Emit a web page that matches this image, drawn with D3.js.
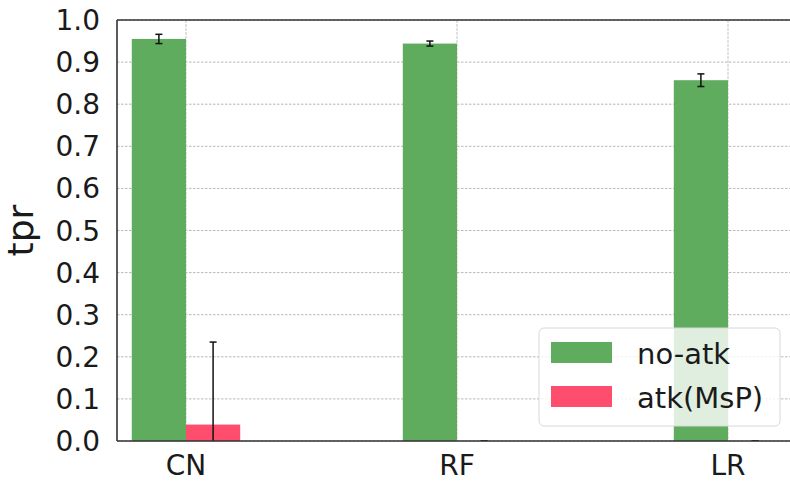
<!DOCTYPE html>
<html>
<head>
<meta charset="utf-8">
<script src="https://cdn.jsdelivr.net/npm/d3@7/dist/d3.min.js"></script>
<style>
  html, body { margin: 0; padding: 0; background: #fff; }
  svg { display: block; font-family: "DejaVu Sans", sans-serif; }
</style>
</head>
<body>
<svg id="chart" width="790" height="482"></svg>
<script>
const categories = ["CN", "RF", "LR"];
const seriesNames = ["no-atk", "atk(MsP)"];
const noAtk = [0.955, 0.944, 0.857];
const noAtkErr = [0.011, 0.006, 0.015];
const atk = [0.039, 0.0, 0.0];
const atkErr = [0.196, 0.0, 0.0];
const yTicks = [0.0, 0.1, 0.2, 0.3, 0.4, 0.5, 0.6, 0.7, 0.8, 0.9, 1.0];

(function () {
const colors = ["#5fac5f", "#ff4d6d"];
const svg = d3.select("#chart");
const W = 790, H = 482;
const pLeft = 117, pTop = 20, pBottom = 441, pRight = 797;

const x = d3.scaleLinear().domain([-0.2546, 2.2546]).range([pLeft, pRight]);
const y = d3.scaleLinear().domain([0, 1]).range([pBottom, pTop]);
const barW = 0.2;

svg.append("defs").append("clipPath").attr("id", "clip")
  .append("rect").attr("x", pLeft).attr("y", pTop).attr("width", pRight - pLeft).attr("height", pBottom - pTop);

// grid
const grid = svg.append("g");
grid.selectAll("line.h").data(yTicks).join("line")
  .attr("x1", pLeft).attr("x2", W).attr("y1", d => y(d)).attr("y2", d => y(d))
  .attr("stroke", "#b8b8b8").attr("stroke-width", 1).attr("stroke-dasharray", "2.5,1.5");
grid.selectAll("line.v").data(categories).join("line")
  .attr("x1", (d, i) => x(i)).attr("x2", (d, i) => x(i)).attr("y1", pTop).attr("y2", pBottom)
  .attr("stroke", "#c4c4c4").attr("stroke-width", 1).attr("stroke-dasharray", "3,1");

const plot = svg.append("g").attr("clip-path", "url(#clip)");
const series = [
  { vals: noAtk, errs: noAtkErr, off: -barW },
  { vals: atk, errs: atkErr, off: 0 }
];
series.forEach((s, si) => {
  plot.selectAll(null).data(s.vals).join("rect")
    .attr("x", (d, i) => x(i + s.off)).attr("width", x(barW) - x(0))
    .attr("y", d => y(d)).attr("height", d => y(0) - y(d))
    .attr("fill", colors[si]);
});
series.forEach((s, si) => {
  const g = plot.append("g");
  s.vals.forEach((v, i) => {
    const cx = x(i + s.off + barW / 2);
    const e = s.errs[i];
    g.append("line").attr("x1", cx).attr("x2", cx).attr("y1", y(v - e)).attr("y2", y(v + e))
      .attr("stroke", "#111").attr("stroke-width", 1.5);
    [v - e, v + e].forEach(t => {
      g.append("line").attr("x1", cx - 3.5).attr("x2", cx + 3.5).attr("y1", y(t)).attr("y2", y(t))
        .attr("stroke", "#111").attr("stroke-width", 1.5);
    });
  });
});

// spines
svg.append("line").attr("x1", pLeft).attr("x2", W).attr("y1", pTop).attr("y2", pTop).attr("stroke", "#333").attr("stroke-width", 1.6);
svg.append("line").attr("x1", pLeft).attr("x2", W).attr("y1", pBottom).attr("y2", pBottom).attr("stroke", "#333").attr("stroke-width", 1.6);
svg.append("line").attr("x1", pLeft).attr("x2", pLeft).attr("y1", pTop).attr("y2", pBottom).attr("stroke", "#333").attr("stroke-width", 1.6);

// y tick labels
svg.selectAll("text.yt").data(yTicks).join("text")
  .attr("x", 100).attr("y", d => y(d)).attr("dy", "0.36em")
  .attr("text-anchor", "end").attr("font-size", 28).attr("fill", "#1a1a1a")
  .text(d => d.toFixed(1));
// x tick labels
svg.selectAll("text.xt").data(categories).join("text")
  .attr("x", (d, i) => x(i)).attr("y", 475)
  .attr("text-anchor", "middle").attr("font-size", 28).attr("fill", "#1a1a1a")
  .text(d => d);
// y label
svg.append("text").attr("transform", `translate(33,${(pTop + pBottom) / 2}) rotate(-90)`)
  .attr("text-anchor", "middle").attr("font-size", 36).attr("fill", "#1a1a1a").text("tpr");

// legend
const lg = svg.append("g");
lg.append("rect").attr("x", 539).attr("y", 328).attr("width", 241).attr("height", 98).attr("rx", 5)
  .attr("fill", "rgba(255,255,255,0.8)").attr("stroke", "#d8d8d8").attr("stroke-width", 1);
seriesNames.forEach((n, i) => {
  lg.append("rect").attr("x", 551).attr("y", 342 + i * 44).attr("width", 61).attr("height", 21).attr("fill", colors[i]);
  lg.append("text").attr("x", 637).attr("y", 364 + i * 44).attr("font-size", 29).attr("fill", "#1a1a1a").text(n);
});
})();
</script>
</body>
</html>
